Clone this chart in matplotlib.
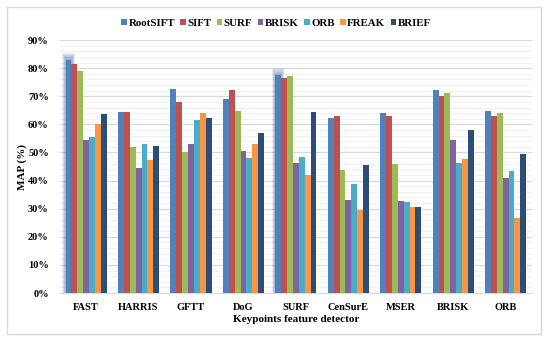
import matplotlib
matplotlib.use("Agg")
import matplotlib.pyplot as plt
import numpy as np
from matplotlib.patches import Rectangle
from matplotlib.ticker import MultipleLocator, FuncFormatter

detectors = ["FAST", "HARRIS", "GFTT", "DoG", "SURF", "CenSurE", "MSER", "BRISK", "ORB"]
descriptors = ["RootSIFT", "SIFT", "SURF", "BRISK", "ORB", "FREAK", "BRIEF"]
colors = ["#4F81BD", "#C0504D", "#9BBB59", "#8064A2", "#4BACC6", "#F79646", "#2C4D75"]

rootsift = [83.0, 64.5, 72.5, 69.0, 77.6, 62.4, 64.0, 72.1, 64.7]
sift     = [81.5, 64.5, 67.9, 72.1, 76.4, 62.9, 62.9, 70.2, 62.9]
surf     = [79.0, 52.0, 50.1, 64.8, 77.2, 43.7, 46.0, 71.2, 64.1]
brisk    = [54.3, 44.6, 53.0, 50.6, 46.4, 33.2, 32.6, 54.4, 40.8]
orb      = [55.6, 53.0, 61.7, 48.0, 48.5, 38.9, 32.5, 46.4, 43.5]
freak    = [60.3, 47.3, 64.1, 52.9, 42.0, 29.6, 30.5, 47.6, 26.6]
brief    = [63.6, 52.4, 62.3, 56.8, 64.5, 45.7, 30.5, 58.0, 49.6]
series = [rootsift, sift, surf, brisk, orb, freak, brief]
glow_groups = ["FAST", "SURF"]

plt.rcParams['font.family'] = ['Liberation Serif', 'DejaVu Serif']
plt.rcParams['font.weight'] = 'bold'

fig = plt.figure(figsize=(5.5, 3.42), dpi=100)
ax = fig.add_axes([0.109, 0.143, 0.858, 0.740])

# outer border
fig.patches.append(Rectangle((0.0127, 0.0234), 0.971, 0.956, transform=fig.transFigure,
                             fill=False, edgecolor="#D9D9D9", linewidth=1.0))

x = np.arange(len(detectors))
bw = 0.112
offsets = (np.arange(len(descriptors)) - 3) * bw

# glow behind highlighted RootSIFT bars
for g in glow_groups:
    i = detectors.index(g)
    xc = x[i] + offsets[0]
    for k in range(1, 7):
        ax.bar(xc, rootsift[i] / 100 + k * 0.004, width=bw + k * 0.02, bottom=0,
               color="#6A82A8", alpha=0.14, zorder=2, linewidth=0)

for j, (name, vals, c) in enumerate(zip(descriptors, series, colors)):
    ax.bar(x + offsets[j], np.array(vals) / 100, width=bw, color=c, label=name, zorder=3,
           linewidth=0)

ax.set_ylim(0, 0.9)
ax.set_xlim(-0.5, len(detectors) - 0.5)
ax.yaxis.set_major_locator(MultipleLocator(0.1))
ax.yaxis.set_minor_locator(MultipleLocator(0.02))
ax.yaxis.set_major_formatter(FuncFormatter(lambda v, p: f"{v*100:.0f}%"))
ax.grid(axis='y', which='major', color="#D9D9D9", linewidth=0.9, zorder=0)
ax.grid(axis='y', which='minor', color="#EFEFEF", linewidth=0.6, zorder=0)
ax.set_axisbelow(True)
for s in ["top", "right", "left"]:
    ax.spines[s].set_visible(False)
ax.spines["bottom"].set_color("#D9D9D9")
ax.tick_params(axis='both', which='both', length=0, labelsize=7.5)
ax.tick_params(axis='y', pad=8)
ax.tick_params(axis='x', pad=7)
ax.set_xticks(x)
ax.set_xticklabels(detectors, fontweight='bold')
for lab in ax.get_yticklabels():
    lab.set_fontweight('bold')
ax.set_xlabel("Keypoints feature detector", fontsize=8, fontweight='bold', labelpad=2)
ax.set_ylabel("MAP (%)", fontsize=8, fontweight='bold', labelpad=1)

fig.legend(loc='center', bbox_to_anchor=(0.502, 0.932), ncol=7, frameon=False,
           handlelength=0.5, handleheight=0.5, handletextpad=0.15,
           columnspacing=0.5, prop={'weight': 'bold', 'size': 7.8})

fig.savefig("out.png", dpi=100)
